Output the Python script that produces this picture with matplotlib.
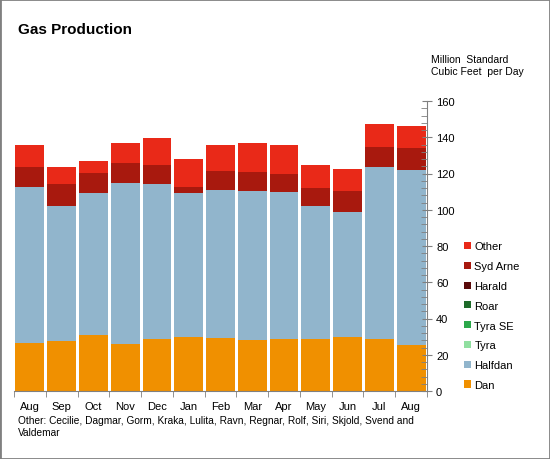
import numpy as np
import matplotlib.pyplot as plt
from matplotlib.ticker import MultipleLocator, FixedLocator

plt.rcParams['font.family'] = ['Liberation Sans', 'DejaVu Sans']

# Monthly gas production, million standard cubic feet per day
months = ["Aug", "Sep", "Oct", "Nov", "Dec", "Jan", "Feb", "Mar", "Apr", "May", "Jun", "Jul", "Aug"]
dan = [26.5, 27.6, 30.9, 25.9, 28.7, 29.8, 29.2, 28.1, 28.7, 28.7, 29.8, 28.7, 25.4]
halfdan = [86.1, 74.4, 78.3, 88.9, 85.5, 79.4, 81.7, 82.2, 81.1, 73.3, 69.0, 94.9, 96.5]
tyra = [0] * 13
tyra_se = [0] * 13
roar = [0] * 13
harald = [0] * 13
syd_arne = [11.0, 12.2, 11.1, 11.0, 10.5, 3.4, 10.5, 10.5, 9.9, 10.0, 11.5, 11.0, 12.2]
other = [12.1, 9.4, 6.6, 11.0, 14.9, 15.4, 14.3, 16.0, 16.0, 12.7, 12.2, 12.7, 12.1]

series = [
    ("Dan", dan, "#F09000"),
    ("Halfdan", halfdan, "#91B5CC"),
    ("Tyra", tyra, "#90DFA0"),
    ("Tyra SE", tyra_se, "#2BA84A"),
    ("Roar", roar, "#1E6B2A"),
    ("Harald", harald, "#5A0A0A"),
    ("Syd Arne", syd_arne, "#A8190E"),
    ("Other", other, "#E92918"),
]

fig = plt.figure(figsize=(5.5, 4.6), dpi=100)
ax = fig.add_axes([14 / 550, 1 - 392 / 460, (427 - 14) / 550, (392 - 102) / 460])

x = np.arange(len(months))
bottom = np.zeros(len(months))
handles = []
for name, vals, col in series:
    vals = np.array(vals, dtype=float)
    b = ax.bar(x, vals, bottom=bottom, width=0.91, color=col, linewidth=0, label=name)
    handles.append(b)
    bottom += vals

ax.set_xlim(-0.5, len(months) - 0.5)
ax.set_ylim(0, 160)

for s in ["left", "top"]:
    ax.spines[s].set_visible(False)
ax.spines["right"].set_color("#808080")
ax.spines["bottom"].set_color("#808080")

ax.yaxis.tick_right()
ax.yaxis.set_major_locator(MultipleLocator(20))
ax.yaxis.set_minor_locator(MultipleLocator(4))
ax.tick_params(axis="y", which="major", direction="inout", length=7, color="#808080",
               labelsize=8, pad=3)
ax.tick_params(axis="y", which="minor", direction="in", length=4, color="#808080")

ax.set_xticks(x)
ax.set_xticklabels(months)
ax.tick_params(axis="x", which="major", length=0, labelsize=8, pad=7)
ax.xaxis.set_minor_locator(FixedLocator(np.arange(-0.5, len(months), 1)))
ax.tick_params(axis="x", which="minor", direction="out", length=4, color="#808080")

fig.text(18 / 550, 1 - 30 / 460, "Gas Production", fontsize=11, fontweight="bold", va="center")
fig.text(431 / 550, 1 - 66 / 460, "Million  Standard\nCubic Feet  per Day", fontsize=7.5,
         va="center", linespacing=1.15)
fig.text(18 / 550, 1 - 427 / 460,
         "Other: Cecilie, Dagmar, Gorm, Kraka, Lulita, Ravn, Regnar, Rolf, Siri, Skjold, Svend and\nValdemar",
         fontsize=7.3, va="center", linespacing=1.2)

ax.legend(handles[::-1], [s[0] for s in series][::-1], loc="upper left",
          bbox_to_anchor=(460 / 550, 1 - 238 / 460), bbox_transform=fig.transFigure,
          frameon=False, fontsize=8, handlelength=0.6, handleheight=0.6,
          handletextpad=0.3, labelspacing=0.88, borderaxespad=0)

# grey frame around the figure
fig.patches.append(plt.Rectangle((0, 0), 1, 1, transform=fig.transFigure, fill=False,
                                 edgecolor="#808080", linewidth=2))

plt.savefig("out.png", dpi=100)
